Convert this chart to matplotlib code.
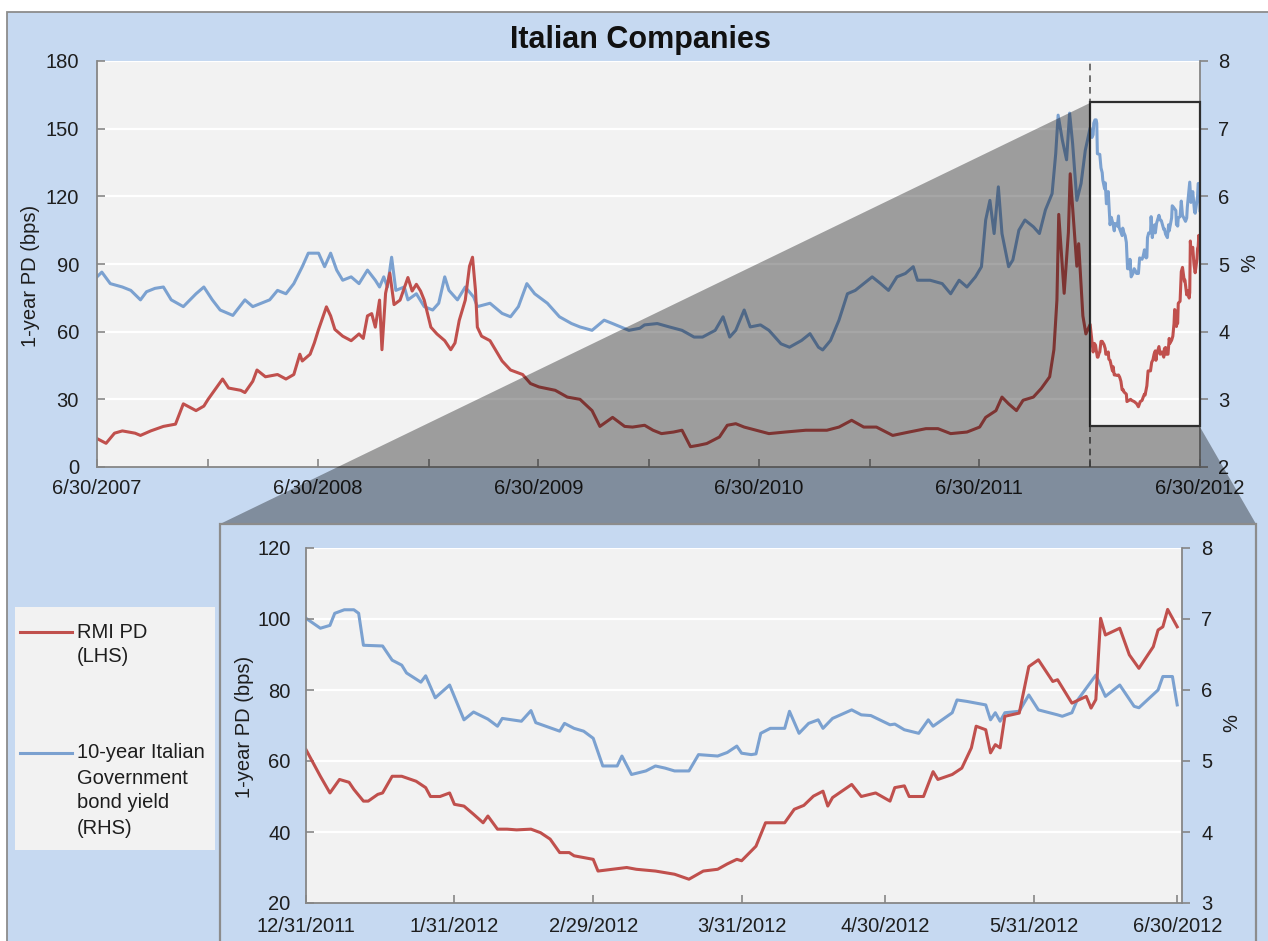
import numpy as np
import pandas as pd
import matplotlib
matplotlib.use("Agg")
import matplotlib.pyplot as plt
from matplotlib.patches import Rectangle, Polygon
from matplotlib.lines import Line2D
import matplotlib.transforms as mtransforms

plt.rcParams['font.family'] = ['Liberation Sans', 'DejaVu Sans']

# ---------------- data ----------------
main_base = "2007-06-30"
# RMI PD (bps), days after 6/30/2007, up to end of 2011
main_red_days = [0, 15, 29, 42, 63, 72, 89, 110, 130, 143, 164, 177, 184, 208, 218, 238, 245, 258, 265, 279,
                 299, 313, 326, 336, 340, 353, 360, 367, 380, 387, 394, 407, 421, 434, 441, 448, 455, 461, 468,
                 472, 478, 485, 492, 502, 515, 522, 529, 536, 542, 553, 563, 576, 586, 593, 600, 610, 617, 622,
                 627, 630, 637, 651, 671, 685, 705, 718, 732, 759, 779, 800, 820, 833, 854, 874, 887, 907, 921,
                 935, 955, 969, 983, 996, 1010, 1031, 1044, 1058, 1072, 1092, 1113, 1140, 1174, 1209, 1229, 1250,
                 1270, 1291, 1318, 1345, 1373, 1393, 1414, 1441, 1462, 1472, 1489, 1499, 1510, 1523, 1534, 1551,
                 1564, 1578, 1585, 1590, 1593, 1599, 1602, 1609, 1612, 1619, 1623, 1626, 1633, 1638]
main_red_vals = [12.6, 10.5, 15, 16, 15, 14, 16, 18, 19, 28, 25, 27, 30, 39, 35, 34, 33, 38, 43, 40,
                 41, 39, 41, 50, 47, 50, 55, 61, 71, 67, 61, 58, 56, 59, 57, 67, 68, 62, 74,
                 52, 77, 86, 72, 74, 84, 78, 81, 78, 74, 62, 59, 56, 52, 55, 65, 74, 89, 93,
                 78, 62, 58, 56, 47, 43, 41, 37, 35.5, 34, 31, 30, 25, 18, 22, 18, 17.7, 18.5, 16.3,
                 14.8, 15.5, 16.3, 9, 9.6, 10.4, 13.3, 18.5, 19.2, 17.7, 16.3, 14.8, 15.5, 16.3, 16.3, 17.7, 20.7,
                 17.7, 17.7, 14, 15.5, 17, 17, 14.8, 15.5, 17.7, 22, 25, 31, 28, 25, 29.6, 31,
                 34.8, 40, 52, 74, 112, 89, 77, 104, 130, 104, 89, 99, 67, 59]
# 10-year Italian government bond yield (%), days after 6/30/2007, up to end of 2011
main_blue_days = [0, 8, 22, 42, 56, 72, 82, 96, 110, 123, 143, 164, 177, 191, 204, 225, 245, 258, 272, 286,
                  299, 313, 326, 340, 350, 367, 377, 387, 397, 407, 421, 434, 448, 461, 468, 475, 481, 488, 495,
                  509, 515, 529, 542, 556, 566, 576, 583, 597, 610, 624, 630, 651, 671, 685, 698, 712, 725, 746,
                  766, 786, 800, 820, 840, 854, 881, 899, 907, 928, 948, 969, 989, 1003, 1024, 1037, 1048, 1058,
                  1072, 1082, 1099, 1113, 1133, 1147, 1167, 1181, 1195, 1202, 1215, 1229, 1243, 1256, 1270, 1284,
                  1298, 1311, 1325, 1339, 1352, 1359, 1380, 1400, 1414, 1428, 1441, 1455, 1465, 1472, 1479, 1486,
                  1493, 1499, 1510, 1517, 1527, 1537, 1551, 1561, 1571, 1582, 1588, 1592, 1599, 1606, 1611, 1616,
                  1623, 1630, 1637]
main_blue_vals = [4.81, 4.88, 4.71, 4.66, 4.61, 4.47, 4.59, 4.64, 4.66, 4.47, 4.37, 4.56, 4.66, 4.47, 4.32, 4.24,
                  4.47, 4.37, 4.42, 4.47, 4.61, 4.56, 4.71, 4.96, 5.16, 5.16, 4.96, 5.16, 4.91, 4.76, 4.81, 4.71,
                  4.91, 4.76, 4.66, 4.81, 4.66, 5.1, 4.61, 4.66, 4.47, 4.56, 4.37, 4.32, 4.42, 4.81, 4.61, 4.47,
                  4.66, 4.51, 4.37, 4.42, 4.27, 4.22, 4.37, 4.71, 4.56, 4.42, 4.22, 4.12, 4.07, 4.02, 4.17, 4.12,
                  4.02, 4.05, 4.1, 4.12, 4.07, 4.02, 3.92, 3.92, 4.02, 4.22, 3.92, 4.02, 4.32, 4.07, 4.1, 4.02,
                  3.82, 3.77, 3.87, 3.97, 3.77, 3.73, 3.87, 4.17, 4.56, 4.61, 4.71, 4.81, 4.71, 4.61, 4.81, 4.86,
                  4.96, 4.76, 4.76, 4.71, 4.56, 4.76, 4.66, 4.81, 4.96, 5.65, 5.94, 5.45, 6.14, 5.45, 4.96, 5.06,
                  5.5, 5.65, 5.55, 5.45, 5.8, 6.04, 6.63, 7.2, 6.83, 6.54, 7.23, 6.78, 5.94, 6.19, 6.68]

inset_base = "2011-12-31"
# RMI PD (bps), days after 12/31/2011
inset_red_days = [0, 3, 5, 7, 9, 10, 12, 13, 15, 16, 18, 20, 23, 25, 26, 28, 30, 31, 33, 35, 37, 38, 40, 42,
                  44, 47, 49, 51, 53, 55, 56, 60, 61, 64, 67, 69, 73, 77, 80, 83, 86, 88, 90, 91, 94, 96, 100,
                  102, 104, 106, 108, 109, 110, 114, 116, 119, 122, 123, 125, 126, 129, 131, 132, 135, 137, 139,
                  140, 142, 143, 144, 145, 146, 149, 151, 153, 156, 157, 160, 163, 164, 165, 166, 167, 170, 172,
                  174, 177, 178, 179, 180, 182]
inset_red_vals = [63.2, 55.7, 51, 54.8, 54, 52, 48.7, 48.7, 50.6, 51, 55.7, 55.7, 54.3, 52.5, 50, 50, 51, 47.8,
                  47.3, 45, 42.6, 44.5, 40.8, 40.8, 40.6, 40.8, 39.8, 38, 34.2, 34.2, 33.3, 32.3, 29, 29.5, 30,
                  29.5, 29, 28.1, 26.7, 29, 29.5, 31, 32.3, 31.9, 36, 42.6, 42.6, 46.4, 47.5, 50.1, 51.5, 47.3,
                  49.7, 53.4, 50, 51, 48.7, 52.5, 53, 50, 50, 57, 54.8, 56.2, 58, 63.7, 69.8, 68.8, 62.3, 64.6,
                  63.7, 72.6, 73.5, 86.6, 88.5, 82.4, 82.9, 76.3, 78.2, 74.9, 77.3, 100.2, 95.5, 97.4, 89.9,
                  86.1, 92.2, 96.9, 97.8, 102.7, 97.8]
# 10-year yield (%), days after 12/31/2011
inset_blue_days = [0, 3, 5, 6, 8, 10, 11, 12, 16, 18, 20, 21, 24, 25, 27, 30, 33, 35, 38, 40, 41, 45, 47, 48,
                   53, 54, 56, 58, 60, 62, 65, 66, 68, 71, 73, 75, 77, 80, 82, 86, 88, 90, 91, 93, 94, 95, 97,
                   100, 101, 103, 105, 107, 108, 110, 114, 116, 118, 122, 123, 125, 128, 130, 131, 135, 136, 138,
                   142, 143, 144, 145, 146, 149, 151, 153, 157, 158, 160, 161, 165, 167, 170, 173, 174, 178, 179,
                   181, 182]
inset_blue_vals = [7.01, 6.87, 6.91, 7.08, 7.13, 7.13, 7.08, 6.63, 6.62, 6.42, 6.35, 6.24, 6.11, 6.2, 5.89, 6.07,
                   5.58, 5.69, 5.59, 5.49, 5.6, 5.56, 5.71, 5.54, 5.42, 5.53, 5.46, 5.42, 5.32, 4.93, 4.93, 5.07,
                   4.81, 4.86, 4.93, 4.9, 4.86, 4.86, 5.09, 5.07, 5.12, 5.21, 5.11, 5.09, 5.1, 5.39, 5.46, 5.46,
                   5.7, 5.39, 5.53, 5.58, 5.46, 5.6, 5.72, 5.65, 5.64, 5.51, 5.52, 5.44, 5.39, 5.58, 5.49, 5.68,
                   5.86, 5.84, 5.79, 5.58, 5.68, 5.56, 5.68, 5.7, 5.93, 5.72, 5.65, 5.63, 5.68, 5.84, 6.21, 5.91,
                   6.07, 5.77, 5.75, 6.0, 6.19, 6.19, 5.79]

title = "Italian Companies"
main_xtick_dates = ["2007-06-30", "2008-06-30", "2009-06-30", "2010-06-30", "2011-06-30", "2012-06-30"]
main_xtick_labels = ["6/30/2007", "6/30/2008", "6/30/2009", "6/30/2010", "6/30/2011", "6/30/2012"]
main_minor_dates = ["2007-12-31", "2008-12-31", "2009-12-31", "2010-12-31", "2011-12-31"]
inset_xtick_dates = ["2011-12-31", "2012-01-31", "2012-02-29", "2012-03-31", "2012-04-30", "2012-05-31", "2012-06-30"]
inset_xtick_labels = ["12/31/2011", "1/31/2012", "2/29/2012", "3/31/2012", "4/30/2012", "5/31/2012", "6/30/2012"]
left_ticks_main = [0, 30, 60, 90, 120, 150, 180]
right_ticks_main = [2, 3, 4, 5, 6, 7, 8]
left_ticks_inset = [20, 40, 60, 80, 100, 120]
right_ticks_inset = [3, 4, 5, 6, 7, 8]
legend_labels = [["RMI PD", "(LHS)"], ["10-year Italian", "Government", "bond yield", "(RHS)"]]

# ---------------- build series ----------------
def to_dates(base, days):
    return pd.Timestamp(base) + pd.to_timedelta(np.array(days, dtype=float), unit="D")

inset_red_x = to_dates(inset_base, inset_red_days)
inset_blue_x = to_dates(inset_base, inset_blue_days)
main_red_x = to_dates(main_base, main_red_days).append(inset_red_x)
main_red_y = list(main_red_vals) + list(inset_red_vals)
main_blue_x = to_dates(main_base, main_blue_days).append(inset_blue_x)
main_blue_y = list(main_blue_vals) + list(inset_blue_vals)

# ---------------- style ----------------
W, H = 1268, 941
BG = "#C6D9F1"
PLOT = "#F2F2F2"
RED = "#C0504D"
BLUE = "#7BA1D0"
AXC = "#868686"
TXT = "#1E1E1E"
FS = 14.5
LW = 2.2

fig = plt.figure(figsize=(W / 100, H / 100), dpi=100, facecolor="white")

def box(x0, y0, x1, y1):
    return [x0 / W, 1 - y1 / H, (x1 - x0) / W, (y1 - y0) / H]

def P(x, y):
    return (x / W, 1 - y / H)

# outer chart background
fig.add_artist(Rectangle(P(7, 990), 1.2, (990 - 12) / H, transform=fig.transFigure,
                         facecolor=BG, edgecolor="#8C8C8C", lw=1.3, zorder=-10))

def style_pair(ax, axr, lticks, rticks, lpad, rpad, xpad):
    ax.set_zorder(axr.get_zorder() + 1)
    ax.patch.set_visible(False)
    axr.patch.set_visible(True)
    axr.patch.set_facecolor(PLOT)
    for s in ["top", "right"]:
        ax.spines[s].set_visible(False)
    for s in ["top", "left", "bottom"]:
        axr.spines[s].set_visible(False)
    for s in ["left", "bottom"]:
        ax.spines[s].set_color(AXC)
        ax.spines[s].set_linewidth(1.3)
    axr.spines["right"].set_color(AXC)
    axr.spines["right"].set_linewidth(1.3)
    ax.set_yticks(lticks)
    axr.set_yticks(rticks)
    ax.set_ylim(lticks[0], lticks[-1])
    axr.set_ylim(rticks[0], rticks[-1])
    axr.yaxis.grid(True, color="white", lw=1.6)
    axr.set_axisbelow(True)
    ax.tick_params(axis="y", direction="in", length=6, width=1.2, color=AXC, pad=lpad,
                   labelsize=FS, labelcolor=TXT)
    axr.tick_params(axis="y", direction="out", length=6, width=1.2, color=AXC, pad=rpad,
                    labelsize=FS, labelcolor=TXT)
    ax.tick_params(axis="x", which="both", direction="in", length=6, width=1.2, color=AXC,
                   pad=xpad, labelsize=FS, labelcolor=TXT)

# ---------------- main chart ----------------
ax = fig.add_axes(box(97, 61, 1200, 467))
axr = ax.twinx()
style_pair(ax, axr, left_ticks_main, right_ticks_main, 13, 7, 9)
axr.plot(main_blue_x, main_blue_y, color=BLUE, lw=LW, solid_joinstyle="round")
ax.plot(main_red_x, main_red_y, color=RED, lw=LW, solid_joinstyle="round")
ax.set_xlim(pd.Timestamp(main_xtick_dates[0]), pd.Timestamp(main_xtick_dates[-1]))
ax.set_xticks(pd.to_datetime(main_xtick_dates))
ax.set_xticklabels(main_xtick_labels)
ax.set_xticks(pd.to_datetime(main_minor_dates), minor=True)

zoom_start = pd.Timestamp(inset_base)
ax.axvline(zoom_start, color="#5A5A5A", lw=1.2, ls=(0, (4, 3)), zorder=4)
bt = mtransforms.blended_transform_factory(ax.transData, axr.transData)
ax.add_patch(Rectangle((zoom_start, 2.6), pd.Timestamp(main_xtick_dates[-1]) - zoom_start, 4.8,
                       transform=bt, fill=False, edgecolor="#2E2E2E", lw=1.6, zorder=5, clip_on=False))

fig.text(*P(31, 276), "1-year PD (bps)", rotation=90, ha="center", va="center", fontsize=FS, color=TXT)
fig.text(*P(1250, 263), "%", rotation=90, ha="center", va="center", fontsize=FS, color=TXT)
fig.text(*P(640, 40), title, ha="center", va="center", fontsize=22, fontweight="bold", color="#111111")

# ---------------- zoom cone ----------------
cone = [P(1090, 103), P(220, 524), P(1256, 524), P(1200, 427), P(1090, 427)]
fig.add_artist(Polygon(cone, closed=True, transform=fig.transFigure, facecolor="black",
                       edgecolor="none", alpha=0.35, zorder=3))

# ---------------- inset ----------------
fig.add_artist(Rectangle(P(220, 990), (1256 - 220) / W, (990 - 524) / H, transform=fig.transFigure,
                         facecolor=BG, edgecolor="#8C8C8C", lw=1.6, zorder=4))
axi = fig.add_axes(box(306, 548, 1182, 903))
axir = axi.twinx()
axir.set_zorder(5)
style_pair(axi, axir, left_ticks_inset, right_ticks_inset, 11, 8, 10)
axir.plot(inset_blue_x, inset_blue_vals, color=BLUE, lw=LW, solid_joinstyle="round")
axi.plot(inset_red_x, inset_red_vals, color=RED, lw=LW, solid_joinstyle="round")
axi.set_xlim(pd.Timestamp(inset_base), pd.Timestamp("2012-07-01"))
axi.set_xticks(pd.to_datetime(inset_xtick_dates))
axi.set_xticklabels(inset_xtick_labels)

t1 = fig.text(*P(244, 727), "1-year PD (bps)", rotation=90, ha="center", va="center", fontsize=FS, color=TXT)
t2 = fig.text(*P(1232, 723), "%", rotation=90, ha="center", va="center", fontsize=FS, color=TXT)
for t in (t1, t2):
    t.set_zorder(8)

# ---------------- legend ----------------
fig.add_artist(Rectangle(P(15, 850), 200 / W, (850 - 607) / H, transform=fig.transFigure,
                         facecolor="#F2F2F2", edgecolor="none", zorder=4))
leg_colors = [RED, BLUE]
leg_y = [632, 753]
for col, y0, lines in zip(leg_colors, leg_y, legend_labels):
    fig.add_artist(Line2D([20 / W, 72 / W], [1 - y0 / H, 1 - y0 / H], transform=fig.transFigure,
                          color=col, lw=LW, zorder=5))
    for i, s in enumerate(lines):
        fig.text(*P(77, y0 + 25 * i), s, ha="left", va="center", fontsize=FS, color=TXT, zorder=5)

fig.savefig("out.png", dpi=100, facecolor="white")
